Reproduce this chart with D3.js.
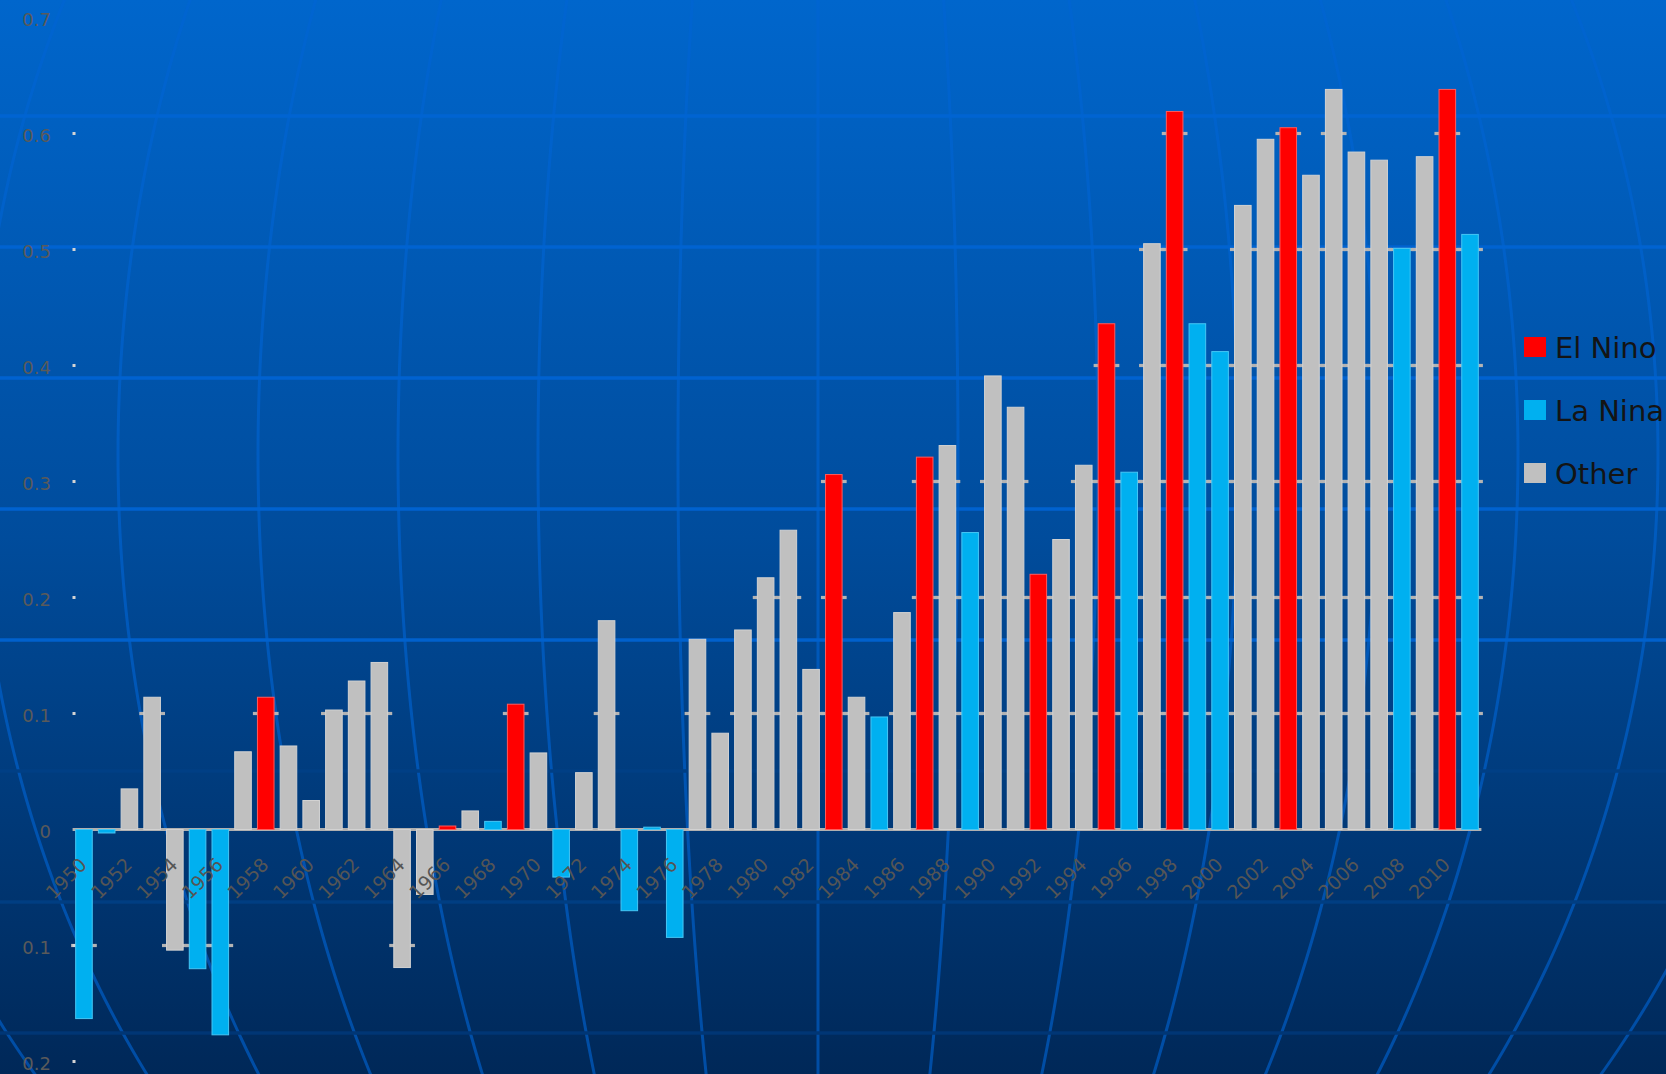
<!DOCTYPE html>
<html><head><meta charset="utf-8">
<script src="https://cdn.jsdelivr.net/npm/d3@7/dist/d3.min.js"></script>
<style>html,body{margin:0;padding:0;background:#003b7a;overflow:hidden}</style>
</head><body>
<svg id="chart" width="1666" height="1074"></svg>
<script>
// ---------------- data ----------------
const years = [1950,1951,1952,1953,1954,1955,1956,1957,1958,1959,
  1960,1961,1962,1963,1964,1965,1966,1967,1968,1969,
  1970,1971,1972,1973,1974,1975,1976,1977,1978,1979,
  1980,1981,1982,1983,1984,1985,1986,1987,1988,1989,
  1990,1991,1992,1993,1994,1995,1996,1997,1998,1999,
  2000,2001,2002,2003,2004,2005,2006,2007,2008,2009,
  2010,2011];
const anomaly = [-0.163,-0.003,0.035,0.114,-0.104,-0.120,-0.177,0.067,0.114,0.072,
  0.025,0.103,0.128,0.144,-0.119,-0.056,0.003,0.016,0.007,0.108,
  0.066,-0.041,0.049,0.180,-0.070,0.002,-0.093,0.164,0.083,0.172,
  0.217,0.258,0.138,0.306,0.114,0.097,0.187,0.321,0.331,0.256,
  0.391,0.364,0.220,0.250,0.314,0.436,0.308,0.505,0.619,0.436,
  0.412,0.538,0.595,0.605,0.564,0.638,0.584,0.577,0.501,0.580,
  0.638,0.513];
const phase = ["L","L","O","O","O","L","L","O","E","O",
  "O","O","O","O","O","O","E","O","L","E",
  "O","L","O","O","L","L","L","O","O","O",
  "O","O","O","E","O","L","O","E","O","L",
  "O","O","E","O","O","E","L","O","E","L",
  "L","O","O","E","O","O","O","O","L","O",
  "E","L"];
const legendKeys = ["E","L","O"];
const legendLabels = ["El Nino","La Nina","Other"];
const phaseColors = {E:"#ff0000", L:"#00b0f0", O:"#c0c0c0"};
const phaseEdges = {E:"#ff5a5a", L:"#45c6f5", O:"#d2d2d2"};
const xTickLabels = ["1950","1952","1954","1956","1958","1960","1962","1964","1966","1968",
  "1970","1972","1974","1976","1978","1980","1982","1984","1986","1988",
  "1990","1992","1994","1996","1998","2000","2002","2004","2006","2008","2010"];
const yTicks = [-0.2,-0.1,0,0.1,0.2,0.3,0.4,0.5,0.6,0.7];
const yTickLabels = ["0.2","0.1","0","0.1","0.2","0.3","0.4","0.5","0.6","0.7"];

// ---------------- layout ----------------
const W = 1666, H = 1074;
const svg = d3.select("#chart");
const defs = svg.append("defs");
const bgStops = ["#0066cc", "#004c9c", "#002858"];
const grad = defs.append("linearGradient").attr("id","bg").attr("x1",0).attr("y1",0).attr("x2",0).attr("y2",1);
bgStops.forEach((c, i) => grad.append("stop").attr("offset", (i * 50) + "%").attr("stop-color", c));
svg.append("rect").attr("width",W).attr("height",H).attr("fill","url(#bg)");
const bgAt = d3.scaleLinear().domain([0, H / 2, H]).range(bgStops).interpolate(d3.interpolateRgb);

// globe-like background grid
const gCx = 818, gEq = 455, gB = 1030, gStep = 140;
const lineCol = "rgb(0,100,212)";
const meridianLine = d3.line().curve(d3.curveBasis);
const ys = d3.range(-30, H + 40, 10);
const bgG = svg.append("g");
d3.range(-7, 8).forEach(k => {
  const pts = ys.map(y => {
    const t = (y - gEq) / gB;
    const g = Math.sqrt(Math.max(0, 1 - t * t));
    return [gCx + k * gStep * g, y];
  });
  bgG.append("path").attr("d", meridianLine(pts))
    .attr("fill","none").attr("stroke",lineCol).attr("stroke-opacity",0.62).attr("stroke-width",3);
});
const parallelY = d3.range(116 - 131, H + 20, 131);
const parallelMix = y => (y < 700 ? 0.9 : y < 800 ? 0.08 : 0.2);
parallelY.forEach(y => {
  bgG.append("line").attr("x1",0).attr("x2",W).attr("y1",y).attr("y2",y)
    .attr("stroke", d3.interpolateRgb(bgAt(y), lineCol)(parallelMix(y)))
    .attr("stroke-width",3.3);
});

// scales
const x = d3.scaleBand().domain(years).range([72.6, 1481.4]).paddingInner(0.27).paddingOuter(0.135);
const y = d3.scaleLinear().domain([-0.2, 0.7]).range([1061.5, 17.5]);
const step = x.step();

// partial gridlines (visible around bars reaching each level)
const gridG = svg.append("g");
yTicks.filter(t => t !== 0).forEach(t => {
  years.forEach((yr, i) => {
    const v = anomaly[i];
    const reach = t > 0 ? v >= t - 0.002 : v <= t + 0.002;
    if (!reach) return;
    const cx = x(yr) + x.bandwidth() / 2;
    gridG.append("line")
      .attr("x1", cx - step / 2 - 1.5).attr("x2", cx + step / 2 + 1.5)
      .attr("y1", y(t)).attr("y2", y(t))
      .attr("stroke","#b4b4b4").attr("stroke-width",3.2);
  });
});
// zero line
gridG.append("line").attr("x1", x.range()[0]).attr("x2", x.range()[1])
  .attr("y1", y(0)).attr("y2", y(0)).attr("stroke","#b0b0b0").attr("stroke-width",3);

// tick dots
svg.append("g").selectAll("rect").data(yTicks.filter(t => t !== 0 && t < 0.7)).join("rect")
  .attr("x", 72.5).attr("y", d => y(d) - 1.5).attr("width",3).attr("height",3).attr("fill","#d4d4d4");

// bars
svg.append("g").selectAll("rect").data(years).join("rect")
  .attr("x", d => x(d))
  .attr("width", x.bandwidth())
  .attr("y", (d,i) => y(Math.max(0, anomaly[i])))
  .attr("height", (d,i) => Math.abs(y(anomaly[i]) - y(0)))
  .attr("fill", (d,i) => phaseColors[phase[i]])
  .attr("stroke", (d,i) => phaseEdges[phase[i]])
  .attr("stroke-width", 1);

// y axis labels
svg.append("g").selectAll("text").data(yTicks).join("text")
  .attr("x", 51).attr("y", d => y(d) + 2)
  .attr("text-anchor","end").attr("dominant-baseline","central")
  .attr("font-family","DejaVu Sans").attr("font-size",18).attr("fill","#5a5a5a")
  .text((d,i) => yTickLabels[i]);

// x axis labels
svg.append("g").selectAll("text").data(xTickLabels).join("text")
  .attr("transform", d => `translate(${x(+d) + x.bandwidth()/2 + 4},866) rotate(-45)`)
  .attr("text-anchor","end")
  .attr("font-family","DejaVu Sans").attr("font-size",19).attr("fill","#555555")
  .text(d => d);

// legend
const lg = svg.append("g");
legendKeys.forEach((k, i) => {
  const yy = 337 + i * 63;
  lg.append("rect").attr("x",1524).attr("y",yy).attr("width",22).attr("height",20)
    .attr("fill", phaseColors[k]);
  lg.append("text").attr("x",1555).attr("y",yy + 21)
    .attr("font-family","DejaVu Sans").attr("font-size",29).attr("fill","#141414")
    .text(legendLabels[i]);
});
</script>
</body></html>
